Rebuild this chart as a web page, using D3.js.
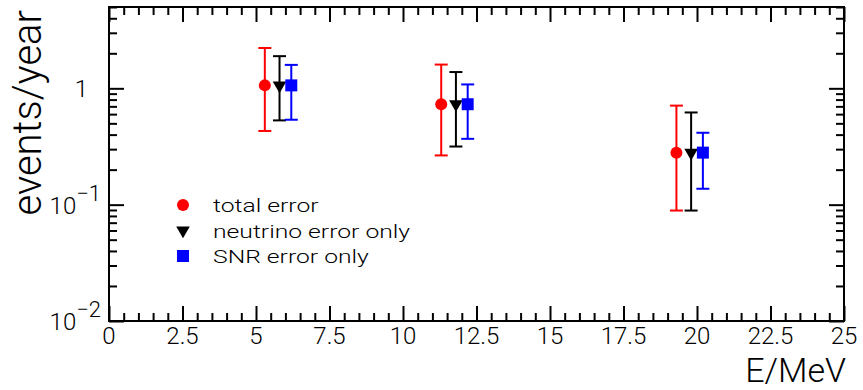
<!DOCTYPE html>
<html>
<head>
<meta charset="utf-8">
<script src="https://cdn.jsdelivr.net/npm/d3@7"></script>
<style>
  html, body { margin: 0; padding: 0; background: #fff; }
  svg { display: block; }
  text { font-family: Roboto, "Liberation Sans", Arial, sans-serif; font-weight: 300; fill: #000; }
</style>
</head>
<body>
<svg id="chart" width="863" height="390"></svg>
<script>
// Expected event rate per energy bin, with three error treatments
const seriesNames = ["total error", "neutrino error only", "SNR error only"];
const seriesColors = ["#ff0000", "#000000", "#0000ff"];
const seriesSymbols = ["circle", "triangle", "square"];

const energyTotal = [5.3, 11.3, 19.3];
const energyNeutrino = [5.8, 11.8, 19.8];
const energySNR = [6.2, 12.2, 20.2];

const rateTotal = [1.06, 0.73, 0.28];
const rateNeutrino = [1.06, 0.73, 0.28];
const rateSNR = [1.06, 0.73, 0.28];

const lowTotal = [0.43, 0.265, 0.089];
const highTotal = [2.22, 1.6, 0.71];
const lowNeutrino = [0.53, 0.316, 0.089];
const highNeutrino = [1.89, 1.38, 0.62];
const lowSNR = [0.537, 0.368, 0.137];
const highSNR = [1.59, 1.08, 0.415];

const xTickValues = [0, 2.5, 5, 7.5, 10, 12.5, 15, 17.5, 20, 22.5, 25];
const xTickLabels = ["0", "2.5", "5", "7.5", "10", "12.5", "15", "17.5", "20", "22.5", "25"];
const yTickValues = [0.01, 0.1, 1];
const yTickLabels = [["10", "\u22122"], ["10", "\u22121"], ["1", ""]];
const xTitle = "E/MeV";
const yTitle = "events/year";

const series = [
  { e: energyTotal, v: rateTotal, lo: lowTotal, hi: highTotal },
  { e: energyNeutrino, v: rateNeutrino, lo: lowNeutrino, hi: highNeutrino },
  { e: energySNR, v: rateSNR, lo: lowSNR, hi: highSNR }
];

const svg = d3.select("#chart");
const frame = { left: 109, right: 844, top: 7, bottom: 321 };

const x = d3.scaleLinear().domain([0, 25]).range([frame.left, frame.right]);
const y = d3.scaleLog().domain([0.01, 5]).range([frame.bottom, frame.top]);

const majorLen = 15, minorLen = 8;

// Inward-pointing ticks on all four sides
const xMinor = d3.range(0, 25.001, 0.5).filter(v => Math.abs(v / 2.5 - Math.round(v / 2.5)) > 1e-6);
const yMinor = [];
[0.01, 0.1, 1].forEach(d => { for (let k = 2; k <= 9; k++) { const v = d * k; if (v <= 5) yMinor.push(v); } });

const axisBottom = d3.axisBottom(x).tickValues(xTickValues).tickFormat("").tickSize(-majorLen).tickSizeOuter(0);
const axisBottomMinor = d3.axisBottom(x).tickValues(xMinor).tickFormat("").tickSize(-minorLen).tickSizeOuter(0);
const axisTop = d3.axisTop(x).tickValues(xTickValues).tickFormat("").tickSize(-majorLen).tickSizeOuter(0);
const axisTopMinor = d3.axisTop(x).tickValues(xMinor).tickFormat("").tickSize(-minorLen).tickSizeOuter(0);
const axisLeft = d3.axisLeft(y).tickValues(yTickValues).tickFormat("").tickSize(-majorLen).tickSizeOuter(0);
const axisLeftMinor = d3.axisLeft(y).tickValues(yMinor).tickFormat("").tickSize(-minorLen).tickSizeOuter(0);
const axisRight = d3.axisRight(y).tickValues(yTickValues).tickFormat("").tickSize(-majorLen).tickSizeOuter(0);
const axisRightMinor = d3.axisRight(y).tickValues(yMinor).tickFormat("").tickSize(-minorLen).tickSizeOuter(0);

function drawAxis(ax, tx, ty) {
  const g = svg.append("g").attr("transform", `translate(${tx},${ty})`).call(ax);
  g.select(".domain").remove();
  g.selectAll(".tick line").attr("stroke", "#000").attr("stroke-width", 2);
  return g;
}
drawAxis(axisBottom, 0, frame.bottom);
drawAxis(axisBottomMinor, 0, frame.bottom);
drawAxis(axisTop, 0, frame.top);
drawAxis(axisTopMinor, 0, frame.top);
drawAxis(axisLeft, frame.left, 0);
drawAxis(axisLeftMinor, frame.left, 0);
drawAxis(axisRight, frame.right, 0);
drawAxis(axisRightMinor, frame.right, 0);

// Frame
svg.append("rect")
  .attr("x", frame.left).attr("y", frame.top)
  .attr("width", frame.right - frame.left).attr("height", frame.bottom - frame.top)
  .attr("fill", "none").attr("stroke", "#000").attr("stroke-width", 2);

// X tick labels
svg.append("g").selectAll("text")
  .data(xTickValues)
  .join("text")
  .attr("x", d => x(d))
  .attr("y", frame.bottom + 23)
  .attr("text-anchor", "middle")
  .attr("font-size", 24)
  .text((d, i) => xTickLabels[i]);

// Y tick labels (powers of ten)
const yl = svg.append("g").selectAll("text")
  .data(yTickValues)
  .join("text")
  .attr("y", d => y(d) + 9)
  .attr("text-anchor", "end")
  .attr("font-size", 24);
yl.append("tspan").text((d, i) => yTickLabels[i][0]);
yl.append("tspan")
  .attr("dy", -13)
  .attr("font-size", 22)
  .text((d, i) => yTickLabels[i][1]);
yl.attr("x", (d, i) => yTickLabels[i][1] ? frame.left - 8 : frame.left - 21);

// Axis titles
svg.append("text")
  .attr("x", frame.right + 2)
  .attr("y", 381.5)
  .attr("text-anchor", "end")
  .attr("font-size", 34)
  .text(xTitle);

svg.append("text")
  .attr("transform", `translate(41,${frame.top + 3}) rotate(-90)`)
  .attr("text-anchor", "end")
  .attr("font-size", 40)
  .text(yTitle);

// Marker shapes
const symbolFor = {
  circle: d3.symbol().type(d3.symbolCircle).size(Math.PI * 36),
  square: d3.symbol().type(d3.symbolSquare).size(144),
  triangle: d3.symbol().type(d3.symbolTriangle).size(80)
};
function drawMarker(g, kind, cx, cy, color) {
  const p = g.append("path")
    .attr("d", symbolFor[kind]())
    .attr("fill", color);
  if (kind === "triangle") p.attr("transform", `translate(${cx},${cy}) rotate(180)`);
  else p.attr("transform", `translate(${cx},${cy})`);
}

// Error bars and markers
const capHalf = 6.5;
series.forEach((s, si) => {
  const g = svg.append("g");
  const color = seriesColors[si];
  s.e.forEach((e, i) => {
    const cx = x(e);
    g.append("line")
      .attr("x1", cx).attr("x2", cx)
      .attr("y1", y(s.lo[i])).attr("y2", y(s.hi[i]))
      .attr("stroke", color).attr("stroke-width", 2);
    [s.lo[i], s.hi[i]].forEach(v => {
      g.append("line")
        .attr("x1", cx - capHalf).attr("x2", cx + capHalf)
        .attr("y1", y(v)).attr("y2", y(v))
        .attr("stroke", color).attr("stroke-width", 2);
    });
    drawMarker(g, seriesSymbols[si], cx, y(s.v[i]), color);
  });
});

// Legend
const legend = svg.append("g");
const legendRowY = [205, 230.5, 256];
seriesNames.forEach((name, i) => {
  drawMarker(legend, seriesSymbols[i], 183, legendRowY[i], seriesColors[i]);
  legend.append("text")
    .attr("transform", `translate(213,${legendRowY[i] + 7}) scale(1.3,1)`)
    .attr("font-size", 19)
    .text(name);
});
</script>
</body>
</html>
